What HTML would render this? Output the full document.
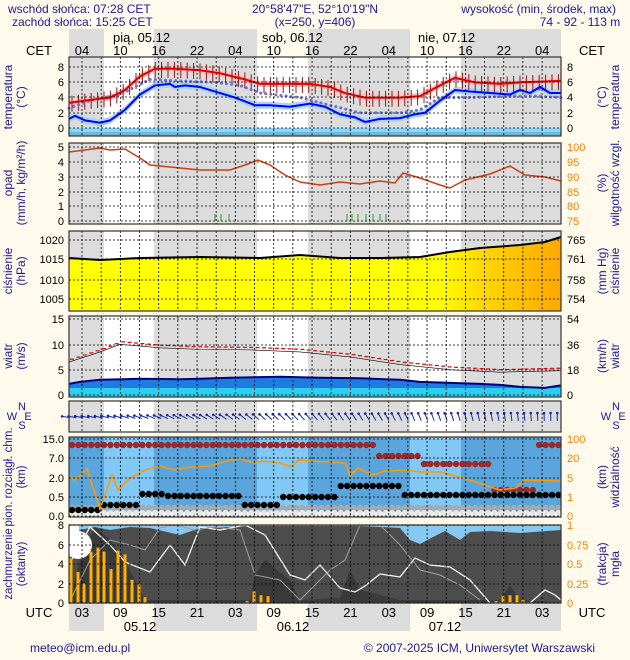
<!DOCTYPE html>
<html><head><meta charset="utf-8"><style>
body{margin:0;background:#fffaeb;}
svg{display:block;font-family:"Liberation Sans",sans-serif;}
</style></head><body>
<svg id="s" width="630" height="660" viewBox="0 0 630 660" xmlns="http://www.w3.org/2000/svg">
<rect width="630" height="660" fill="#fffaeb"/>
<g fill="#1a1a9a" font-size="12">
<text x="8" y="13">wschód słońca: 07:28 CET</text>
<text x="12" y="26">zachód słońca: 15:25 CET</text>
<text x="315" y="13" text-anchor="middle">20°58'47"E, 52°10'19"N</text>
<text x="315" y="26" text-anchor="middle">(x=250,  y=406)</text>
<text x="616" y="13" text-anchor="end">wysokość (min, środek, max)</text>
<text x="580" y="26" text-anchor="middle">74 - 92 - 113 m</text>
</g>
<g id="bands"></g>
<g id="content"></g>
</svg>
<script>
const S=document.getElementById('s');const C=document.getElementById('content');const B=document.getElementById('bands');
const NS='http://www.w3.org/2000/svg';
function el(p,t,a,txt){const e=document.createElementNS(NS,t);for(const k in a)e.setAttribute(k,a[k]);if(txt!==undefined)e.textContent=txt;p.appendChild(e);return e;}
const L=69,R=561;
const grays=[[69,104],[154,257],[308,410],[461,561]];
const panels=[[57,136],[143,224],[231,311],[316,397],[401,432],[437,517],[525,603]];
for(const [a,b] of grays){el(B,'rect',{x:a,y:29,width:b-a,height:28,fill:'#dcdcdc'});el(B,'rect',{x:a,y:603,width:b-a,height:28,fill:'#dcdcdc'});}
panels.forEach((p,i)=>{
 el(C,'rect',{x:L,y:p[0],width:R-L,height:p[1]-p[0],fill:'#ffffff'});
 for(const [a,b] of grays)el(C,'rect',{x:a,y:p[0],width:b-a,height:p[1]-p[0],fill:'#dcdcdc'});
});
function pl(pts,attrs){el(C,'polyline',Object.assign({points:pts.map(p=>p.join(',')).join(' '),fill:'none'},attrs));}
function area(pts,base,attrs){const s=pts.map(p=>p.join(',')).join(' ');el(C,'polygon',Object.assign({points:`${pts[0][0]},${base} ${s} ${pts[pts.length-1][0]},${base}`},attrs));}
const ty=t=>128-7.6*t;
el(C,'rect',{x:L,y:128,width:R-L,height:8,fill:'#8fd3f5'});
el(C,'rect',{x:L,y:132,width:R-L,height:4,fill:'#6ab8e0'});
const red=[[69,3.3],[90,3.7],[110,4],[125,5],[140,6.8],[155,7.8],[175,7.8],[200,7.6],[220,7.2],[245,6.4],[260,5.8],[290,5.8],[310,5.8],[330,5.4],[345,4.6],[365,4],[400,4],[420,4.2],[440,5.6],[455,6.6],[475,6],[500,5.8],[520,6],[561,6.2]];
const blue=[[69,1.2],[75,1.6],[85,1],[100,0.7],[110,1],[125,2.4],[140,4.4],[155,5.6],[170,5.8],[175,5.4],[185,5.6],[200,5.4],[215,4.8],[235,4],[255,3],[270,3],[290,2.8],[310,3.2],[325,2.8],[340,1.8],[355,1.4],[365,0.8],[380,1.2],[400,1.3],[415,1.8],[425,2],[440,3.6],[455,5],[470,4.8],[490,4.6],[510,4.4],[520,5],[530,4.6],[540,5.4],[550,4.6],[561,4.6]];
const dew=[[69,2.6],[90,3.6],[120,4.4],[150,6.4],[180,6.2],[215,6],[240,5.6],[260,4.6],[300,4],[330,3],[360,2],[400,2],[420,2.4],[440,4],[470,4],[510,4.2],[535,4.2],[561,4]];
const band=(a,d,col)=>{const up=a.map(p=>[p[0],ty(p[1]+d)]);const dn=a.slice().reverse().map(p=>[p[0],ty(p[1]-d)]);el(C,'polygon',{points:up.concat(dn).map(p=>p.join(',')).join(' '),fill:col});};
band(red,0.4,'#f5c4c4');band(blue,0.45,'#a8d4f8');
for(let x=72;x<561;x+=6.4){let i=red.findIndex(p=>p[0]>=x);if(i<1)i=1;const a=red[i-1],b=red[i];const t=a[1]+(b[1]-a[1])*(x-a[0])/(b[0]-a[0]);el(C,'line',{x1:x,x2:x,y1:ty(t+0.9),y2:ty(t-1.2),stroke:'#a01010','stroke-width':1});}
pl(dew.map(p=>[p[0],ty(p[1])]),{stroke:'#7070d0','stroke-width':3,'stroke-dasharray':'0.1 5','stroke-linecap':'round'});
pl(red.map(p=>[p[0],ty(p[1])]),{stroke:'#e00000','stroke-width':2});
pl(blue.map(p=>[p[0],ty(p[1])]),{stroke:'#0000ff','stroke-width':2});
const hum=[[69,152],[85,150],[100,148],[110,150],[125,149],[140,158],[150,165],[170,167],[200,170],[230,170],[245,165],[258,160],[270,165],[285,175],[300,182],[320,185],[340,182],[360,184],[380,181],[395,183],[403,173],[420,178],[440,185],[450,188],[465,180],[490,174],[510,166],[525,175],[545,177],[561,181]];
pl(hum,{stroke:'#c84010','stroke-width':1.5});
[215,221,229,347,352,358,366,373,380,386].forEach(x=>el(C,'line',{x1:x,x2:x,y1:221,y2:214,stroke:'#20a020','stroke-width':1}));
const pr=[[69,258],[100,260],[140,258],[200,257],[260,258],[300,255],[340,258],[380,258],[420,257],[450,252],[480,248],[520,245],[545,242],[561,237]];
const grad=el(el(C,'defs',{}),'linearGradient',{id:'pg',x1:0,x2:1,y1:0,y2:0});
el(grad,'stop',{offset:'0','stop-color':'#ffff00'});el(grad,'stop',{offset:'0.75','stop-color':'#ffff00'});el(grad,'stop',{offset:'0.85','stop-color':'#ffd400'});el(grad,'stop',{offset:'1','stop-color':'#ffa800'});
area(pr,311,{fill:'url(#pg)'});
pl(pr,{stroke:'#000','stroke-width':2});
const wy=v=>395-5.07*v;
const wsp=[[69,2.2],[80,2.6],[100,3],[140,3.2],[180,3.1],[200,3.2],[230,3.4],[280,3.6],[320,3.4],[360,3.3],[400,3],[420,2.6],[450,2.4],[480,2.2],[500,2],[520,1.6],[545,1.4],[561,1.9]];
area(wsp.map(p=>[p[0],wy(p[1])]),397,{fill:'#1e7be0'});
el(C,'rect',{x:L,y:388,width:R-L,height:9,fill:'#2bd0f0'});
pl(wsp.map(p=>[p[0],wy(p[1])]),{stroke:'#000080','stroke-width':2});
const gust=[[69,7],[100,9],[120,10.5],[160,9.8],[200,9.5],[250,9.4],[300,9],[350,8],[400,6.5],[450,5.5],[500,5],[561,5.3]];
pl(gust.map(p=>[p[0],wy(p[1]-0.5)]),{stroke:'#000','stroke-width':0.6});
for(let x=70;x<560;x+=6.4){let i=gust.findIndex(p=>p[0]>=x);if(i<1)i=1;const a=gust[i-1],b=gust[i];const g=a[1]+(b[1]-a[1])*(x-a[0])/(b[0]-a[0]);el(C,'line',{x1:x,x2:x+4,y1:wy(g),y2:wy(g),stroke:'#e00000','stroke-width':1.2});}
for(let k=0;k<76;k++){const x=66+k*6.55;const ang=-Math.PI*(0.95-k/75*0.45);const dx=Math.cos(ang)*8,dy=Math.sin(ang)*8;const x0=x,y0=417;
 el(C,'line',{x1:x0-dx/2,y1:y0-dy/2,x2:x0+dx/2,y2:y0+dy/2,stroke:'#1a2aa0','stroke-width':1});
 el(C,'circle',{cx:x0+dx/2,cy:y0+dy/2,r:1.3,fill:'#1a2aa0'});}
el(C,'rect',{x:L,y:437,width:R-L,height:80,fill:'#82c8f5'});
for(const [a,b] of grays)el(C,'rect',{x:a,y:437,width:b-a,height:80,fill:'#5aa6dc'});
el(C,'rect',{x:L,y:512,width:R-L,height:5,fill:'#ffffff'});
const ora=[[69,476],[75,480],[87,469],[100,509],[112,475],[118,490],[130,478],[145,470],[160,466],[175,470],[190,467],[210,466],[230,460],[240,459],[255,463],[262,461],[280,463],[292,467],[298,460],[310,461],[345,463],[350,476],[358,468],[372,475],[385,471],[405,470],[420,472],[440,472],[460,477],[500,490],[515,488],[525,480],[561,481]];
for(let x=72;x<560;x+=6.4){
 el(C,'circle',{cx:x,cy:(x>377&&x<423)?456:(x>423&&x<490)?464:(x>490&&x<535)?490:445,r:3.2,fill:'#a02828'});
 const h=x<100?510:x<140?505:x<165?494:x<240?496:x<280?505:x<340?497:x<400?486:495;
 el(C,'circle',{cx:x,cy:508,r:3.2,fill:'#a8a8a8'});
 el(C,'circle',{cx:x,cy:513,r:3,fill:'#e8e8e8'});
 el(C,'circle',{cx:x,cy:h,r:3.2,fill:'#000'});
}
pl(ora,{stroke:'#ff9900','stroke-width':1.6});
el(C,'rect',{x:L,y:525,width:R-L,height:78,fill:'#86c8f0'});
el(C,'polygon',{points:'69,545 80,530 95,527 110,530 130,527 150,528 180,535 200,528 250,526 330,526 360,526 400,528 410,540 420,544 435,536 445,531 460,540 470,532 490,531 520,533 561,530 561,603 69,603',fill:'#4d4d4d'});
el(C,'polygon',{points:'69,603 80,560 95,527 110,540 130,570 145,600 250,600 255,575 265,560 290,580 300,600 340,598 350,570 360,590 400,600 500,600 510,585 520,600 561,603',fill:'#3a3a3a'});
el(C,'circle',{cx:78,cy:545,r:14,fill:'#fff'});
el(C,'rect',{x:69,y:525,width:10,height:30,fill:'#fff'});
pl([[69,565],[90,527],[110,545],[125,562],[150,572],[170,545],[185,565],[200,527],[220,530],[245,525],[265,535],[290,575],[305,580],[320,565],[340,588],[355,592],[365,586],[380,574],[400,577],[415,558],[430,565],[450,567],[470,580],[490,603],[530,603],[545,590],[555,595],[561,600]],{stroke:'#ffffff','stroke-width':1.2});
pl([[69,603],[90,560],[110,540],[130,545],[145,550],[160,528],[175,525],[195,530],[215,527],[240,530],[255,575],[280,580],[300,600],[330,570],[345,560],[360,525],[380,525],[400,545],[420,570],[440,575],[460,585],[480,600]],{stroke:'#a0a0a0','stroke-width':1});
const bars=[[71,4.6],[78,3.2],[84,2],[91,5.3],[98,5.7],[104,5.3],[111,3.5],[118,5.4],[125,5],[132,2.4],[139,1.9],[145,0.6],[247,0.2],[254,1.2],[261,0.8],[268,0.7],[496,0.2],[503,0.7],[510,0.8],[517,0.8],[523,0.3]];
bars.forEach(b=>el(C,'rect',{x:b[0]-1.5,y:603-b[1]*9.7,width:3,height:b[1]*9.7,fill:'#ffb000'}));
panels.forEach((p,i)=>{
 for(let x=82;x<R;x+=19.17)el(C,'line',{x1:x,x2:x,y1:p[0],y2:p[1],stroke:'#000','stroke-width':0.8,'stroke-dasharray':'2 2'});
 el(C,'rect',{x:L,y:p[0],width:R-L,height:p[1]-p[0],fill:'none',stroke:'#333','stroke-width':1.2});
});
const hg={0:[67,82,97,113,128],1:[147,162,177,192,206,221],2:[240,259,280,299],3:[319,345,370,395],5:[439,458,478,497,516],6:[525,545,564,584,603]};
for(const k in hg)hg[k].forEach(y=>el(C,'line',{x1:L,x2:R,y1:y,y2:y,stroke:'#000','stroke-width':0.8,'stroke-dasharray':'2 2'}));
function t(x,y,s,a,col,fs){el(C,'text',{x:x,y:y,'text-anchor':a||'middle',fill:col||'#000','font-size':fs||11},s);}
['04','10','16','22','04','10','16','22','04','10','16','22','04'].forEach((s,i)=>t(82+i*38.35,55,s,'middle','#000',13));
['03','09','15','21','03','09','15','21','03','09','15','21','03'].forEach((s,i)=>t(82+i*38.35,617,s,'middle','#000',13));
t(113,42,'pią, 05.12','start','#000',13);t(262,42,'sob, 06.12','start','#000',13);t(418,42,'nie, 07.12','start','#000',13);
t(140,631,'05.12','middle','#000',13);t(293,631,'06.12','middle','#000',13);t(445,631,'07.12','middle','#000',13);
t(39,55,'CET','middle','#000',13);t(592,55,'CET','middle','#000',13);t(39,617,'UTC','middle','#000',13);t(592,617,'UTC','middle','#000',13);
[[8,67],[6,82],[4,97],[2,113],[0,128]].forEach(v=>{t(64,v[1]+4,v[0],'end');t(567,v[1]+4,v[0],'start');});
[5,4,3,2,1,0].forEach((v,i)=>t(64,[147,162,177,192,206,221][i]+4,v,'end'));
[100,95,90,85,80,75].forEach((v,i)=>t(567,[147,162,177,192,206,221][i]+4,v,'start','#ff8000'));
[['1020',240],['1015',259],['1010',280],['1005',299]].forEach(v=>t(64,v[1]+4,v[0],'end'));
[['765',240],['761',259],['758',280],['754',299]].forEach(v=>t(567,v[1]+4,v[0],'start'));
[['15',319],['10',345],['5',370],['0',395]].forEach(v=>t(64,v[1]+4,v[0],'end'));
[['54',319],['36',345],['18',370],['0',395]].forEach(v=>t(567,v[1]+4,v[0],'start'));
[['15.0',439],['7.0',458],['2.0',478],['0.5',497],['0.0',516]].forEach(v=>t(64,v[1]+4,v[0],'end'));
[['100',439],['20',458],['5',478],['1',497],['0',516]].forEach(v=>t(567,v[1]+4,v[0],'start','#ff8000'));
[['8',525],['6',545],['4',564],['2',584],['0',603]].forEach(v=>t(64,v[1]+4,v[0],'end'));
[['1',525],['0.75',545],['0.5',564],['0.25',584],['0',603]].forEach(v=>t(567,v[1]+4,v[0],'start','#ff8000'));
function vt(x,y,lines,fs){const g=el(C,'g',{transform:`translate(${x},${y}) rotate(-90)`});lines.forEach((s,i)=>el(g,'text',{x:0,y:i*13,'text-anchor':'middle',fill:'#1a1a9a','font-size':fs||12},s));}
vt(12,97,['temperatura','(°C)']);vt(606,97,['(°C)','temperatura']);
vt(12,183,['opad','(mm/h, kg/m²/h)']);vt(606,183,['(%)','wilgotność wzgl.']);
vt(12,271,['ciśnienie','(hPa)']);vt(606,271,['(mm Hg)','ciśnienie']);
vt(12,356,['wiatr','(m/s)']);vt(606,356,['(km/h)','wiatr']);
vt(12,477,['pion. rozciągł. chm.','(km)'],11.5);vt(606,477,['(km)','widzialność']);
vt(12,564,['zachmurzenie','(oktanty)'],11.5);vt(606,564,['(frakcja)','mgła']);
[[18,0],[612,0]].forEach(p=>{t(p[0]-6,420,'W','middle','#1a1a9a',11);t(p[0]+4,410,'N','middle','#1a1a9a',11);t(p[0]+4,429,'S','middle','#1a1a9a',11);t(p[0]+10,420,'E','middle','#1a1a9a',11);});
t(30,652,'meteo@icm.edu.pl','start','#1a1a9a',12);t(595,652,'© 2007-2025 ICM, Uniwersytet Warszawski','end','#1a1a9a',12);
</script>
</body></html>
